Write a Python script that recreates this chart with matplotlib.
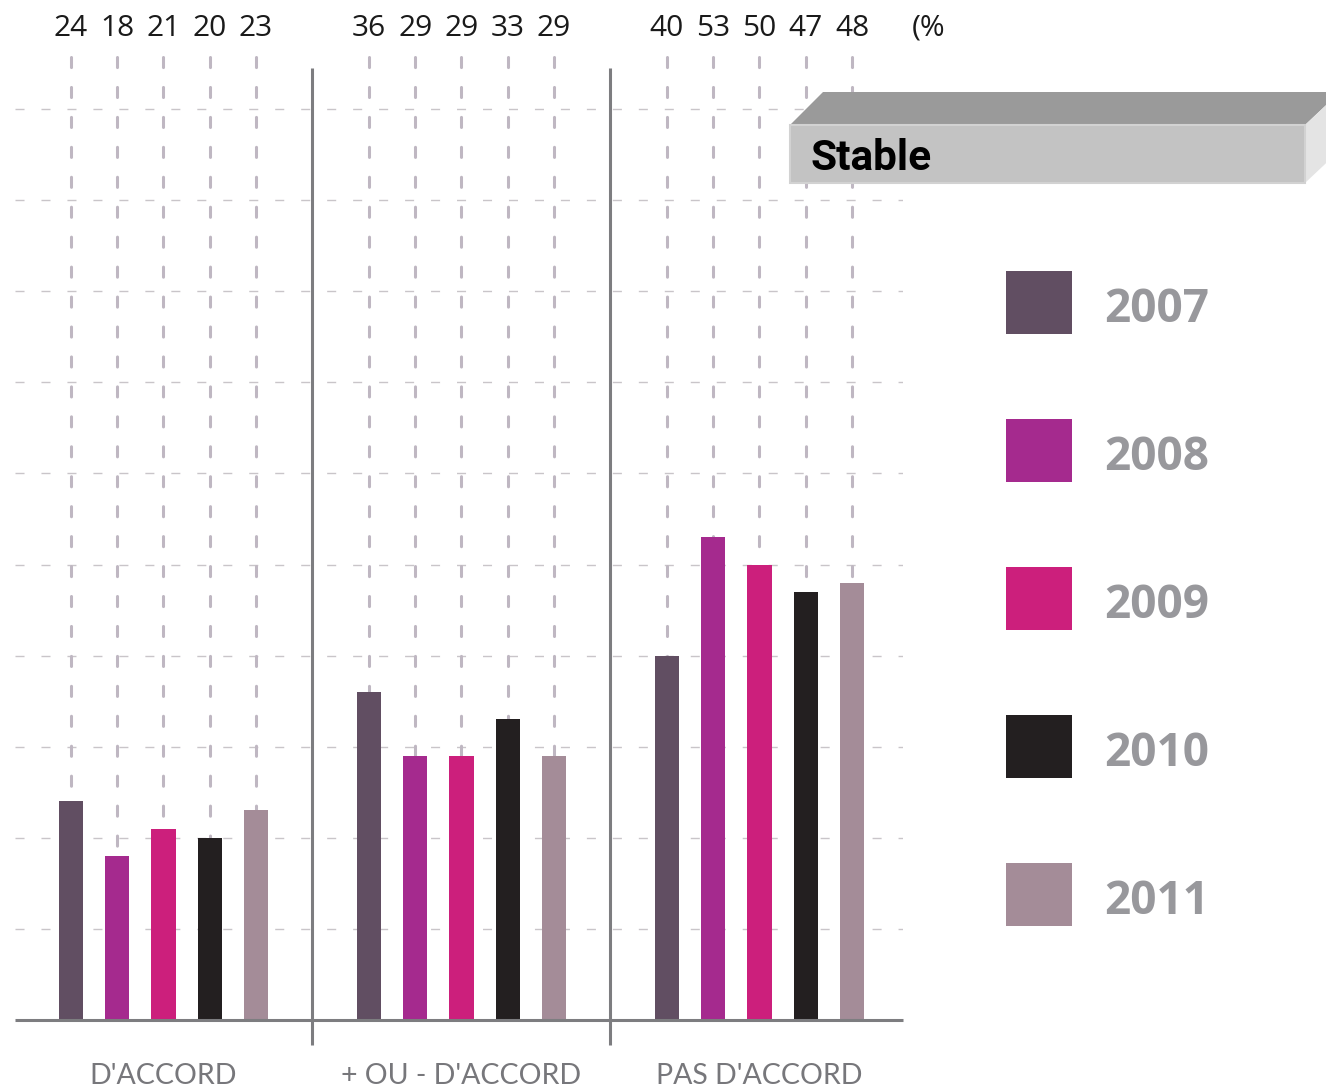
import matplotlib
matplotlib.use("Agg")
import matplotlib.pyplot as plt
from matplotlib.patches import Polygon, Rectangle

# ---- data ----
categories = ["D'ACCORD", "+ OU - D'ACCORD", "PAS D'ACCORD"]
years = ["2007", "2008", "2009", "2010", "2011"]
v2007 = [24, 36, 40]
v2008 = [18, 29, 53]
v2009 = [21, 29, 50]
v2010 = [20, 33, 47]
v2011 = [23, 29, 48]
series = [v2007, v2008, v2009, v2010, v2011]
colors = ["#614e62", "#a52a8e", "#cc1f7c", "#231f20", "#a48c98"]
gridlines = [10, 20, 30, 40, 50, 60, 70, 80, 90, 100]
badge_text = "Stable"
unit_text = "(%"

# ---- layout ----
W, H = 1326, 1088
fig = plt.figure(figsize=(W / 100, H / 100), dpi=100)
fig.patch.set_facecolor("white")

def fx(px):
    return px / W

def fy(py):
    return 1 - py / H

ax_left, ax_right, ax_top, ax_bottom = 15, 903, 55, 1020
ax = fig.add_axes([fx(ax_left), fy(ax_bottom), (ax_right - ax_left) / W, (ax_bottom - ax_top) / H])
px_per_unit = 9.11
ymax = (ax_bottom - ax_top) / px_per_unit
ax.set_ylim(0, ymax)
bar_px = 46.25
x0px = 71
ax.set_xlim((ax_left - x0px) / bar_px, (ax_right - x0px) / bar_px)
for s in ax.spines.values():
    s.set_visible(False)
ax.set_xticks([])
ax.set_yticks([])

group_step = 6.443
bar_w = 0.52
xl, xr = ax.get_xlim()

# horizontal dashed grid
for g in gridlines:
    ax.plot([xl, xr], [g, g], color="#c9c5c9", lw=1.0, ls=(0, (6.5, 12.2)), zorder=1)

top_y = (ax_bottom - 28) / px_per_unit
# bars + vertical dashed lines + top numbers
for gi, cat in enumerate(categories):
    for si, (vals, col) in enumerate(zip(series, colors)):
        x = gi * group_step + si
        ax.plot([x, x], [ymax - 0.17, 0], color="#bfb7c2", lw=2.2, ls=(0, (3.3, 6.5)),
                dash_capstyle="round", zorder=1)
        ax.bar(x, vals[gi], width=bar_w, color=col, zorder=3)
        ax.text(x, top_y, str(vals[gi]), ha="center", va="center",
                fontsize=21.5, family="Open Sans", fontweight=500, color="#1a1a1a", clip_on=False)
    # category label
    cx = gi * group_step + 2
    ax.text(cx, (ax_bottom - 1076) / px_per_unit, cat, ha="center", va="center",
            fontsize=20.5, family="Lato", color="#77777b", clip_on=False)

ax.text((912 - x0px) / bar_px, top_y, unit_text, ha="left", va="center",
        fontsize=21.5, family="Open Sans", fontweight=500, color="#1a1a1a", clip_on=False)

# separators
for gi in range(1, len(categories)):
    sx = (gi - 1) * group_step + 4 + (group_step - 4) / 2
    ax.plot([sx, sx], [(ax_bottom - 68) / px_per_unit, (ax_bottom - 1045) / px_per_unit],
            color="#7d7d80", lw=2.2, zorder=4, clip_on=False, solid_capstyle="butt")

# baseline
ax.plot([xl, xr], [0, 0], color="#7d7d80", lw=2.2, zorder=4, clip_on=False, solid_capstyle="butt")

# ---- overlay (badge + legend) in pixel coords ----
ov = fig.add_axes([0, 0, 1, 1])
ov.set_xlim(0, W)
ov.set_ylim(H, 0)
ov.axis("off")

ov.add_patch(Polygon([(790, 125), (1305, 125), (1340, 92), (823, 92)], closed=True,
                     facecolor="#9a9a9a", edgecolor="none", zorder=5))
ov.add_patch(Polygon([(1305, 125), (1340, 92), (1340, 150), (1305, 183)], closed=True,
                     facecolor="#e4e4e4", edgecolor="none", zorder=5))
ov.add_patch(Rectangle((790, 125), 515, 58, facecolor="#c3c3c3", edgecolor="#d2d2d2", lw=1.5, zorder=6))
ov.text(810, 159, badge_text, ha="left", va="center", fontsize=30.5, family="Roboto",
        fontweight="bold", color="#000000", zorder=7)

leg_y0, leg_step = 271, 148
for i, (yr, col) in enumerate(zip(years, colors)):
    y = leg_y0 + i * leg_step
    ov.add_patch(Rectangle((1006, y), 66, 63, facecolor=col, edgecolor="none", zorder=5))
    ov.text(1104, y + 38, yr, ha="left", va="center", fontsize=33, family="Open Sans",
            fontweight="bold", color="#98989c", zorder=6)

fig.savefig("out.png", dpi=100)
